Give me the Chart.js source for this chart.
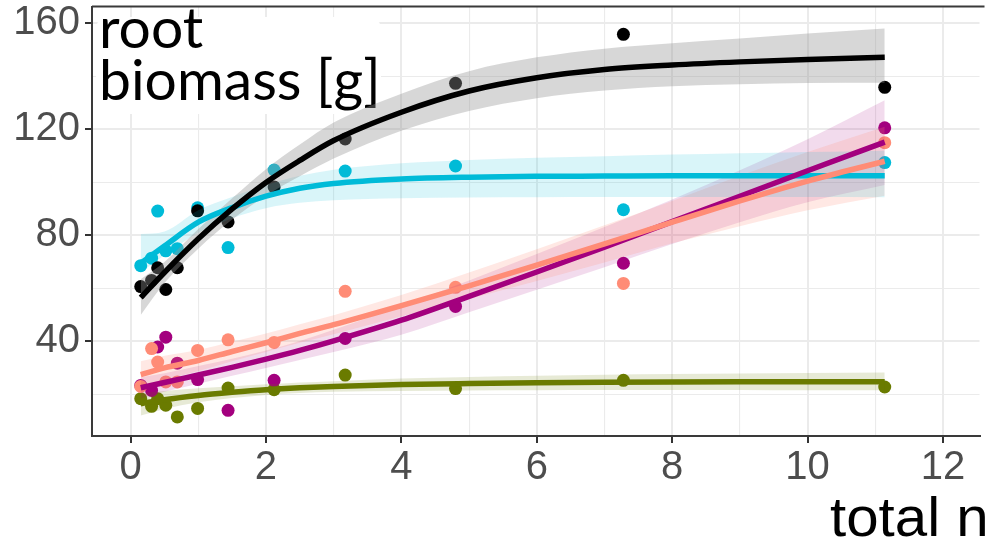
<!DOCTYPE html>
<html><head><meta charset="utf-8">
<script src="https://cdn.jsdelivr.net/npm/chart.js@4/dist/chart.umd.min.js"></script>
<style>html,body{margin:0;padding:0;background:#fff;overflow:hidden}#wrap{width:986px;height:548px;position:relative}</style>
</head><body><div id="wrap"><canvas id="c" width="986" height="548"></canvas></div>
<script>
// ---- observed data (x = total n level) ----
const nLevels = [0.15, 0.31, 0.40, 0.52, 0.69, 0.99, 1.44, 2.12, 3.17, 4.80, 7.28, 11.14];
const blackPts   = [60.7, 63.0, 67.8, 59.6, 67.8, 89.3, 85.1, 98.3, 116.4, 137.4, 155.9, 135.9];
const cyanPts    = [68.6, 71.4, 89.2, 74.2, 75.0, 90.4, 75.4, 104.7, 104.3, 106.2, 89.7, 107.5];
const salmonPts  = [23.0, 37.3, 32.2, 24.7, 24.7, 36.6, 40.6, 39.6, 58.9, 60.4, 61.9, 115.0];
const magentaPts = [23.4, 21.5, 37.9, 41.6, 31.8, 25.6, 14.0, 25.3, 41.1, 53.2, 69.5, 120.6];
const greenPts   = [18.4, 15.5, 18.4, 15.9, 11.5, 14.7, 22.4, 21.8, 27.3, 22.2, 25.3, 22.8];

// ---- fitted curves and confidence ribbons, read at these x values ----
const fitX = [0.15, 0.5, 1, 1.5, 2, 2.5, 3, 4, 5, 6, 7, 8, 9, 10, 11.14];
const blackFit = [56.5, 66, 78.7, 90, 100, 108.3, 115.8, 126.5, 134.5, 139.5, 142.6, 144.3, 145.5, 146.4, 147.2];
const blackLo  = [50, 62, 75, 86, 95, 102.3, 109, 119.5, 127, 131.8, 134.7, 136.3, 137.1, 137.5, 137.6];
const blackHi  = [63.5, 70, 82.4, 94, 105, 114.3, 122.6, 133.5, 142, 147.2, 150.5, 152.5, 154.3, 156.2, 158.1];
const cyanFit  = [69.5, 76, 85, 90.5, 94.8, 97.8, 99.6, 101.3, 102, 102.3, 102.4, 102.5, 102.5, 102.5, 102.5];
const cyanLo   = [66, 72.5, 81, 86.5, 90.3, 92.3, 93.3, 94, 94.3, 94.4, 94.5, 94.5, 94.5, 94.5, 94.4];
const cyanHi   = [80.5, 81.5, 89.5, 94.5, 99, 102.5, 104.8, 107.2, 108.5, 109.3, 109.9, 110.5, 111, 111.5, 112];
const salmonFit = [27.5, 30, 32.8, 36.2, 39.5, 43, 46.3, 53.5, 61, 68.8, 76.8, 85, 93, 100.5, 108];
const salmonLo  = [22.5, 25.4, 28.8, 32.5, 36, 39.5, 42.7, 49.5, 56, 62.8, 69.8, 77, 83.5, 89.5, 95];
const salmonHi  = [32.5, 34.6, 36.8, 39.9, 43, 46.5, 49.9, 57.5, 66, 74.8, 83.8, 93, 102.5, 111.5, 121];
const magentaFit = [22.5, 24.5, 27.3, 30.2, 33.3, 36.6, 40.2, 48, 57, 66.2, 75.6, 85.2, 94.8, 104.4, 115.2];
const magentaLo  = [18.5, 21, 24, 27, 30, 33, 36, 42.5, 51, 59.5, 68, 76.8, 85, 92.5, 99];
const magentaHi  = [26.5, 28, 30.7, 33.5, 36.6, 40.2, 44.4, 53.5, 63, 73, 83.2, 93.6, 104.6, 116.3, 131];
const greenFit = [16.5, 18, 19.6, 20.8, 21.8, 22.5, 23, 23.7, 24.1, 24.4, 24.6, 24.7, 24.75, 24.8, 24.8];
const greenLo  = [12, 14.5, 17, 18.6, 19.8, 20.5, 21, 21.3, 21.5, 21.6, 21.7, 21.7, 21.7, 21.6, 21.6];
const greenHi  = [20.5, 21.3, 22.3, 23.1, 23.8, 24.5, 25, 26, 26.6, 27, 27.4, 27.7, 27.9, 28.1, 28.3];

const xMajorTicks = [0, 2, 4, 6, 8, 10, 12];
const yMajorTicks = [40, 80, 120, 160];
const yTitleLines = ['root', 'biomass [g]'];
const xTitle = 'total n';

const zip = (xs, ys) => xs.map((x, i) => ({x, y: ys[i]}));

const series = [
  {name:'black',   col:'#000000', rib:'rgba(150,150,150,0.38)', pts:blackPts,   fit:blackFit,   lo:blackLo,   hi:blackHi,   lineOrder:3},
  {name:'cyan',    col:'#00BBD8', rib:'rgba(0,187,216,0.15)',   pts:cyanPts,    fit:cyanFit,    lo:cyanLo,    hi:cyanHi,    lineOrder:5},
  {name:'salmon',  col:'#FF8C76', rib:'rgba(255,140,118,0.2)',  pts:salmonPts,  fit:salmonFit,  lo:salmonLo,  hi:salmonHi,  lineOrder:1},
  {name:'magenta', col:'#A3007E', rib:'rgba(163,0,126,0.14)',   pts:magentaPts, fit:magentaFit, lo:magentaLo, hi:magentaHi, lineOrder:2},
  {name:'green',   col:'#6A7B00', rib:'rgba(106,123,0,0.16)',   pts:greenPts,   fit:greenFit,   lo:greenLo,   hi:greenHi,   lineOrder:4},
];

const datasets = [];
series.forEach(s => {
  datasets.push({type:'scatter', data: zip(nLevels, s.pts), showLine:false, pointRadius:6.5, pointBackgroundColor:s.col, pointBorderWidth:0, order:100});
});
series.forEach(s => {
  datasets.push({type:'line', data: zip(fitX, s.lo), borderWidth:0, pointRadius:0, fill:false, cubicInterpolationMode:'monotone', order:50});
  datasets.push({type:'line', data: zip(fitX, s.hi), borderWidth:0, pointRadius:0, fill:'-1', backgroundColor:s.rib, cubicInterpolationMode:'monotone', order:50});
});
series.forEach(s => {
  datasets.push({type:'line', data: zip(fitX, s.fit), borderColor:s.col, borderWidth:5.5, pointRadius:0, fill:false, cubicInterpolationMode:'monotone', borderCapStyle:'butt', order:s.lineOrder});
});

const decor = {
  id:'decor',
  beforeDatasetsDraw(chart){
    const ctx = chart.ctx;
    ctx.save();
    ctx.fillStyle = '#ffffff';
    ctx.beginPath();
    ctx.roundRect(96, 17, 285, 97, 12);
    ctx.fill();
    ctx.fillStyle = '#000000';
    ctx.font = '57px Lato';
    ctx.textBaseline = 'alphabetic';
    ctx.fillText(yTitleLines[0], 99, 48);
    ctx.fillText(yTitleLines[1], 99, 100);
    ctx.restore();
  },
  afterDraw(chart){
    const ctx = chart.ctx, a = chart.chartArea;
    ctx.save();
    ctx.strokeStyle = '#3a3a3a';
    ctx.lineWidth = 2;
    ctx.beginPath();
    ctx.moveTo(a.left, a.top); ctx.lineTo(a.right + 5, a.top);
    ctx.stroke();
    ctx.fillStyle = '#000000';
    ctx.font = '56px "Liberation Sans"';
    ctx.textBaseline = 'alphabetic';
    ctx.translate(830, 536);
    ctx.scale(1.04, 1);
    ctx.fillText(xTitle, 0, 0);
    ctx.restore();
  }
};

const tickFont = {family:'"Liberation Sans", Arial, sans-serif', size:40};
new Chart(document.getElementById('c'), {
  data:{datasets},
  options:{
    responsive:false, animation:false, devicePixelRatio:1,
    layout:{padding:{top:5, right:0, left:0, bottom:0}},
    plugins:{legend:{display:false}, tooltip:{enabled:false}, filler:{drawTime:'beforeDatasetDraw'}},
    scales:{
      x:{type:'linear', min:-0.57, max:12.54,
        ticks:{stepSize:1, includeBounds:false, autoSkip:false, maxRotation:0, color:'#4D4D4D', font:tickFont, padding:1,
          callback:(v)=> xMajorTicks.includes(v) ? String(v) : ''},
        grid:{color:'#EBEBEB', lineWidth:(c)=> (c.tick && xMajorTicks.includes(c.tick.value)) ? 2 : 1.1,
          tickColor:(c)=> (c.tick && xMajorTicks.includes(c.tick.value)) ? '#333333' : 'rgba(0,0,0,0)', tickLength:7, tickWidth:2},
        border:{display:true, color:'#3a3a3a', width:2},
        afterFit:(ax)=>{ ax.height = 112; ax.paddingLeft = 0; ax.paddingRight = 0; }
      },
      y:{type:'linear', min:4.3, max:166.4,
        ticks:{stepSize:20, includeBounds:false, autoSkip:false, color:'#4D4D4D', font:tickFont, padding:5,
          callback:(v)=> yMajorTicks.includes(v) ? String(v) : ''},
        grid:{color:'#EBEBEB', lineWidth:(c)=> (c.tick && yMajorTicks.includes(c.tick.value)) ? 2 : 1.1,
          tickColor:(c)=> (c.tick && yMajorTicks.includes(c.tick.value)) ? '#333333' : 'rgba(0,0,0,0)', tickLength:7, tickWidth:2},
        border:{display:true, color:'#3a3a3a', width:2},
        afterFit:(ax)=>{ ax.width = 92; ax.paddingTop = 0; ax.paddingBottom = 0; }
      }
    }
  },
  plugins:[decor]
});
</script></body></html>
